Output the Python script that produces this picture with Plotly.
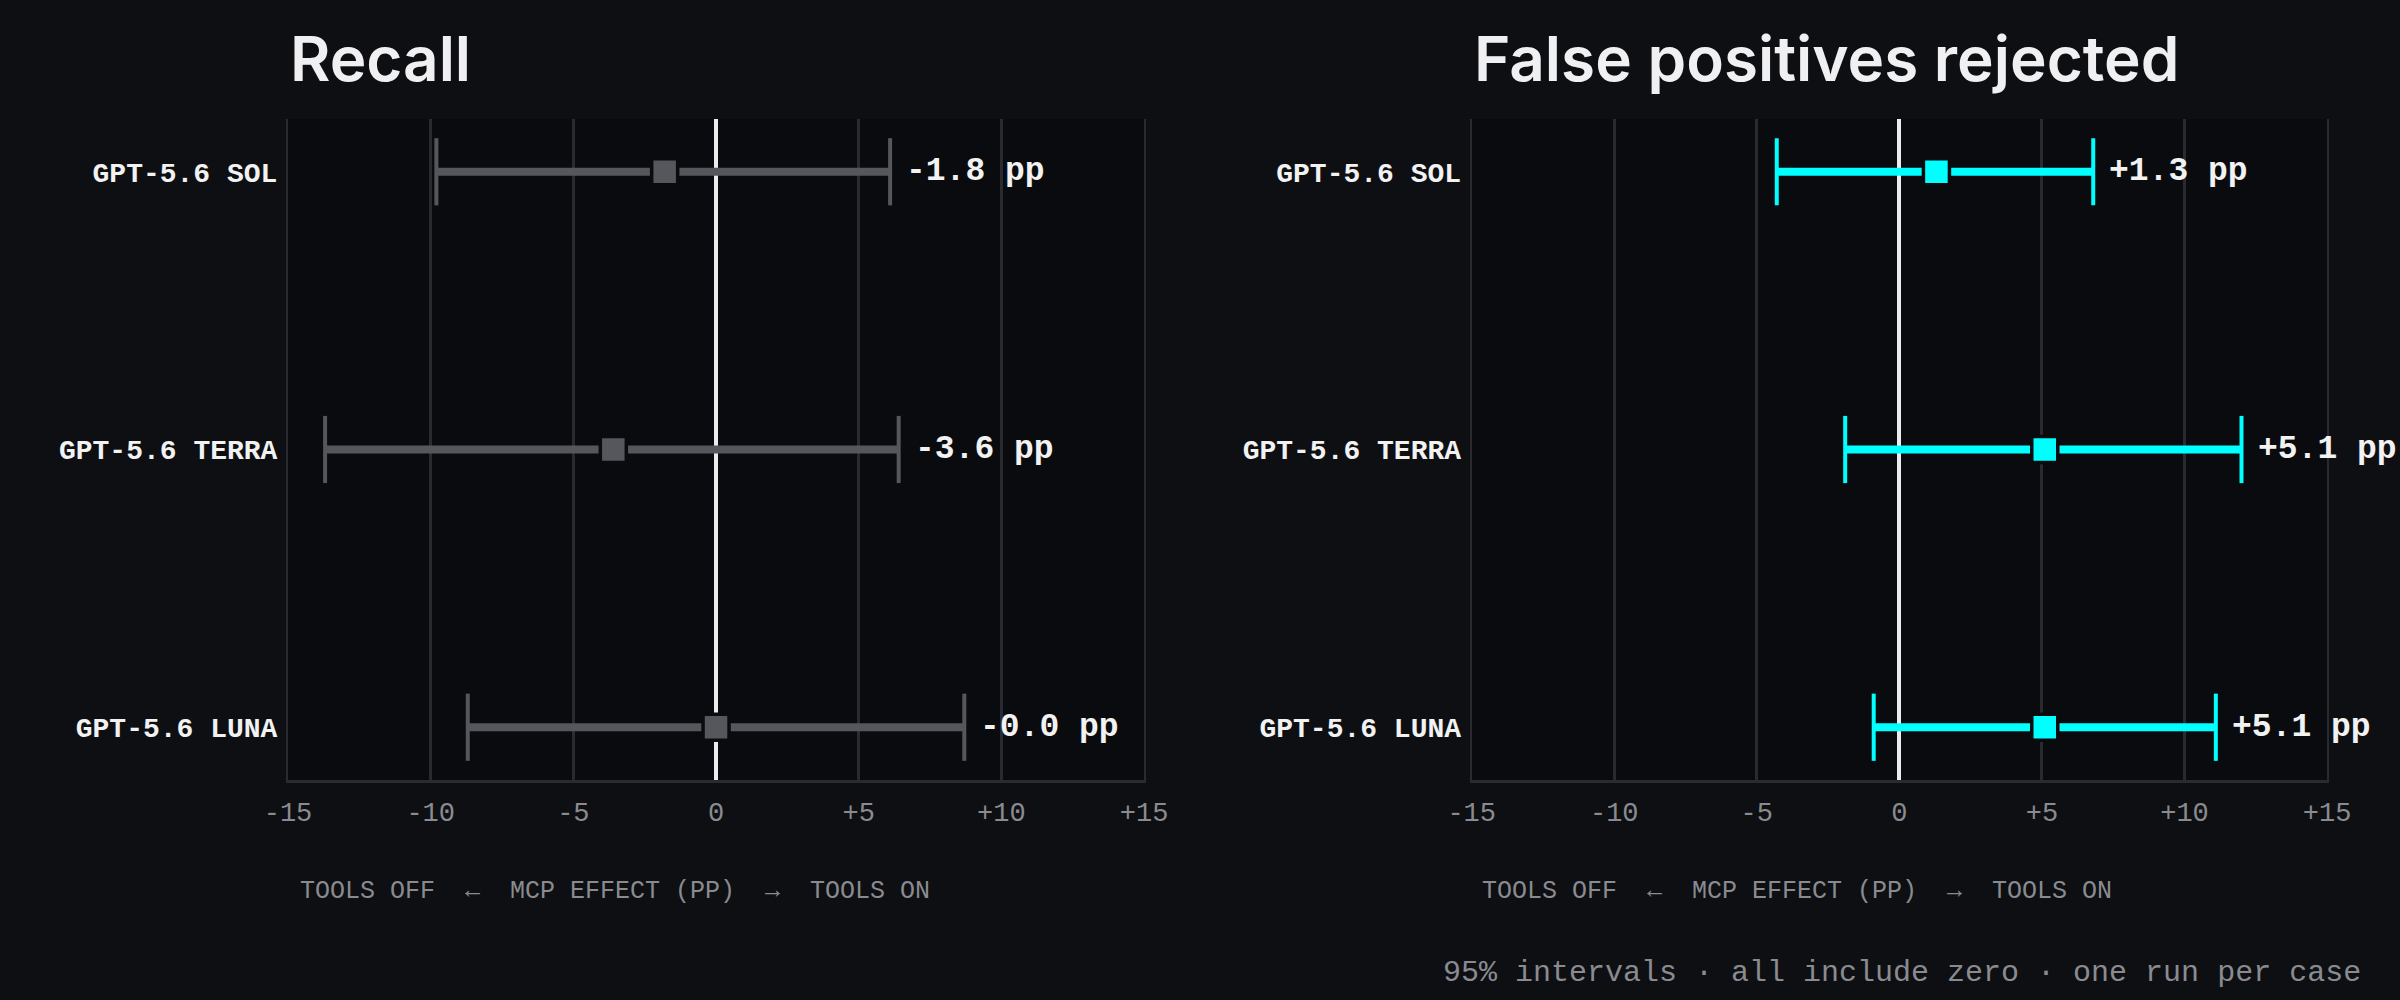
import plotly.graph_objects as go

models = ["GPT-5.6 SOL", "GPT-5.6 TERRA", "GPT-5.6 LUNA"]

# recall effect (pp) with 95% interval
recall_est = [-1.8, -3.6, -0.0]
recall_lo = [-9.8, -13.7, -8.7]
recall_hi = [6.1, 6.4, 8.7]

# false positives rejected effect (pp) with 95% interval
fp_est = [1.3, 5.1, 5.1]
fp_lo = [-4.3, -1.9, -0.9]
fp_hi = [6.8, 12.0, 11.1]

x_ticks = [-15, -10, -5, 0, 5, 10, 15]
x_ticktext = ["-15", "-10", "-5", "0", "+5", "+10", "+15"]

panel_titles = ["Recall", "False positives rejected"]
axis_note = "TOOLS OFF\u00a0\u00a0←\u00a0\u00a0MCP EFFECT (PP)\u00a0\u00a0→\u00a0\u00a0TOOLS ON"
footer = "95% intervals · all include zero · one run per case"

PAPER = "#0e0f13"
PLOT = "#0a0b0e"
GRID = "#2a2b30"
MUTED = "#8a8b90"
MONO = "Liberation Mono"

fig = go.Figure()

panels = [
    (recall_est, recall_lo, recall_hi, "#56575c", "x", "y"),
    (fp_est, fp_lo, fp_hi, "#00ffff", "x2", "y2"),
]
rows = list(range(len(models)))

for est, lo, hi, color, xa, ya in panels:
    # interval bars
    bx, by = [], []
    for i in rows:
        bx += [lo[i], hi[i], None]
        by += [i, i, None]
    fig.add_trace(go.Scatter(x=bx, y=by, mode="lines", xaxis=xa, yaxis=ya,
                             line=dict(color=color, width=8), hoverinfo="skip"))
    # end caps
    fig.add_trace(go.Scatter(x=lo + hi, y=rows + rows, mode="markers", xaxis=xa, yaxis=ya,
                             marker=dict(symbol="line-ns", size=48,
                                         line=dict(color=color, width=4)),
                             hoverinfo="skip"))
    # point estimate
    fig.add_trace(go.Scatter(x=est, y=rows, mode="markers", xaxis=xa, yaxis=ya,
                             marker=dict(symbol="square", size=26, color=color,
                                         line=dict(color=PLOT, width=3.5)),
                             hovertemplate="%{x:+.1f} pp<extra></extra>"))
    for i in rows:
        fig.add_annotation(x=hi[i], y=i, xref=xa, yref=ya, text=f"{est[i]:+.1f} pp",
                           showarrow=False, xanchor="left", yanchor="middle", xshift=14,
                           font=dict(family=MONO, size=33, color="#f2f2f2", weight="bold"))

xaxis_style = dict(range=[-15, 15], tickvals=x_ticks, ticktext=x_ticktext,
                   showgrid=True, gridcolor=GRID, gridwidth=3,
                   zeroline=True, zerolinecolor="#ececec", zerolinewidth=4,
                   showline=True, linecolor=GRID, linewidth=3,
                   ticks="", ticklabelstandoff=6, automargin=False,
                   tickfont=dict(family=MONO, size=27, color=MUTED), fixedrange=True)
yaxis_style = dict(range=[2.19, -0.19], tickvals=rows,
                   ticktext=models, showgrid=False, zeroline=False,
                   showline=True, mirror=True, linecolor=GRID, linewidth=2,
                   ticks="", ticklabelstandoff=3, automargin=False,
                   tickfont=dict(family=MONO, size=28, color="#f2f2f2", weight="bold"),
                   fixedrange=True)

fig.update_layout(
    width=2400, height=1000,
    margin=dict(l=0, r=0, t=0, b=0, autoexpand=False),
    paper_bgcolor=PAPER, plot_bgcolor=PLOT,
    showlegend=False,
    xaxis=dict(domain=[0.12, 0.4767], anchor="y", **xaxis_style),
    yaxis=dict(domain=[0.22, 0.881], anchor="x", **yaxis_style),
    xaxis2=dict(domain=[0.6132, 0.9696], anchor="y2", **xaxis_style),
    yaxis2=dict(domain=[0.22, 0.881], anchor="x2", **yaxis_style),
)

for title, x0, nx in [(panel_titles[0], 0.12, 0.1242), (panel_titles[1], 0.6132, 0.6167)]:
    fig.add_annotation(x=x0, y=0.942, xref="paper", yref="paper", text=title,
                       showarrow=False, xanchor="left", yanchor="middle",
                       font=dict(family="Inter", size=62, color="#f0f0f2", weight=600))
    fig.add_annotation(x=nx, y=0.109, xref="paper", yref="paper", text=axis_note,
                       showarrow=False, xanchor="left", yanchor="middle",
                       font=dict(family=MONO, size=25, color=MUTED))

fig.add_annotation(x=0.9846, y=0.027, xref="paper", yref="paper", text=footer,
                   showarrow=False, xanchor="right", yanchor="middle",
                   font=dict(family=MONO, size=30, color=MUTED))

fig.write_html("out.html", config={"displayModeBar": False},
               post_script="document.body.style.margin='0';document.body.style.overflow='hidden';")
